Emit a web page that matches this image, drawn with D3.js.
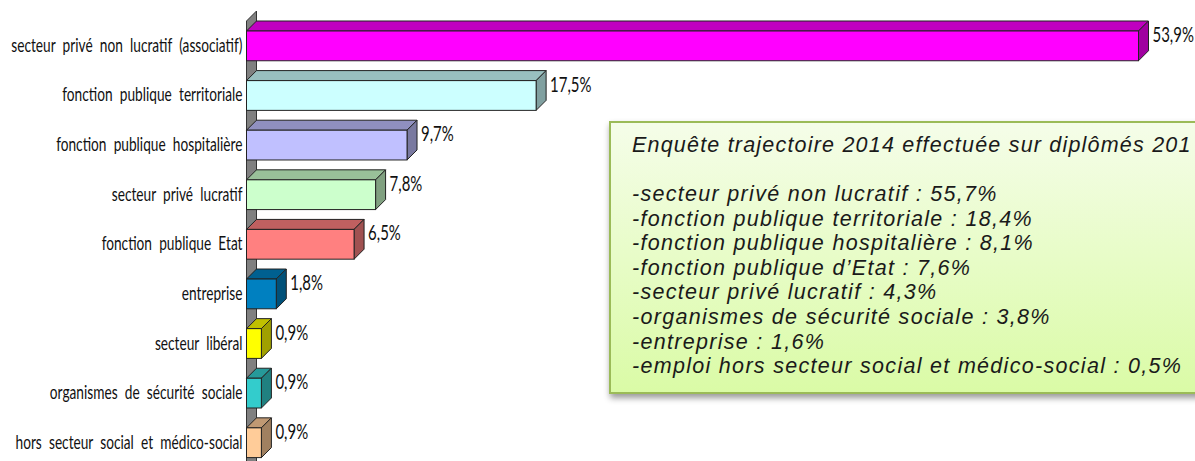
<!DOCTYPE html>
<html lang="fr">
<head>
  <meta charset="UTF-8">
  <title>Secteurs d'emploi</title>
  <style>
    body { margin: 0; background: #fff; overflow: hidden; }
    svg { display: block; }
    .cat text { font-family: Lato, sans-serif; font-size: 18.5px; fill: #111; word-spacing: 5px; }
    .valeur { font-family: Lato, sans-serif; font-size: 22px; fill: #111; }
    .encadre text { font-family: "Liberation Sans", sans-serif; font-style: italic; font-size: 21.5px; fill: #1a1a1a; letter-spacing: 1.3px; }
    .encadre .titre { letter-spacing: 1.2px; }
  </style>
</head>
<body>
  <svg id="grafico"></svg>

  <script src="https://d3js.org/d3.v7.min.js"></script>
  <script>
    const categories = [
      'secteur privé non lucratif (associatif)',
      'fonction publique territoriale',
      'fonction publique hospitalière',
      'secteur privé lucratif',
      'fonction publique Etat',
      'entreprise',
      'secteur libéral',
      'organismes de sécurité sociale',
      'hors secteur social et médico-social'
    ];
    const valeurs = [53.9, 17.5, 9.7, 7.8, 6.5, 1.8, 0.9, 0.9, 0.9];
    const couleurs = ['#ff00ff', '#ccffff', '#c0c0ff', '#ccffcc', '#ff8080', '#0080c0', '#ffff00', '#33cccc', '#ffcc99'];
    const titreEncadre = 'Enquête trajectoire 2014 effectuée sur diplômés 201';
    const lignesEncadre = [
      '-secteur privé non lucratif : 55,7%',
      '-fonction publique territoriale : 18,4%',
      '-fonction publique hospitalière : 8,1%',
      '-fonction publique d’Etat : 7,6%',
      '-secteur privé lucratif : 4,3%',
      '-organismes de sécurité sociale : 3,8%',
      '-entreprise : 1,6%',
      '-emploi hors secteur social et médico-social : 0,5%'
    ];

    function executa() {
      const largura = 1195;
      const altura = 461;
      const prof = 10; // profondeur de l'effet 3D
      const svg = d3.select('#grafico').attr('width', largura).attr('height', altura);
      const fmt = d => String(d.toFixed(1)).replace('.', ',') + '%';

      const x = d3.scaleLinear().domain([0, 53.9]).range([246.5, 1138.5]);
      const y = d3.scaleBand().domain(categories).range([31, 457.6]).paddingInner(0.4);
      const bh = y.bandwidth();

      // mur gris derriere les barres
      svg.append('path')
        .attr('d', `M${x(0)},${y.range()[0] - 10}l${prof},${-prof}V${altura + 5}h${-prof}Z`)
        .attr('fill', '#808080')
        .attr('stroke', '#333');

      const barres = svg.selectAll('.barre')
        .data(categories)
        .enter()
        .append('g')
        .classed('barre', true)
        .attr('stroke', '#222')
        .attr('stroke-width', 1);

      const x1 = (d, i) => x(valeurs[i]);

      barres.append('path') // dessus
        .attr('fill', (d, i) => d3.color(couleurs[i]).darker(0.8))
        .attr('d', (d, i) => `M${x(0)},${y(d)}l${prof},${-prof}H${x1(d, i) + prof}l${-prof},${prof}Z`);

      barres.append('path') // cote
        .attr('fill', (d, i) => d3.color(couleurs[i]).darker(1.3))
        .attr('d', (d, i) => `M${x1(d, i)},${y(d)}l${prof},${-prof}v${bh}l${-prof},${prof}Z`);

      barres.append('rect')
        .attr('x', x(0))
        .attr('y', d => y(d))
        .attr('width', (d, i) => x1(d, i) - x(0))
        .attr('height', bh)
        .attr('fill', (d, i) => couleurs[i]);

      svg.selectAll('.valeur')
        .data(valeurs)
        .enter()
        .append('text')
        .classed('valeur', true)
        .text(fmt)
        .attr('transform', (d, i) => `translate(${x(d) + 14},${y(categories[i]) + 11}) scale(.68,1)`);

      svg.append('g')
        .classed('cat', true)
        .attr('transform', `translate(${x(0)},0)`)
        .call(d3.axisLeft(y).tickSize(0).tickPadding(0))
        .call(g => g.select('.domain').remove())
        .selectAll('text')
        .attr('x', null)
        .attr('dy', null)
        .attr('transform', 'translate(-4,6) scale(.74,1)');

      // encadre vert
      const defs = svg.append('defs');
      const grad = defs.append('linearGradient').attr('id', 'fondVert').attr('x2', 0).attr('y2', 1);
      grad.append('stop').attr('offset', 0).attr('stop-color', '#f5fde9');
      grad.append('stop').attr('offset', 1).attr('stop-color', '#dafba6');
      const ombre = defs.append('filter').attr('id', 'ombre').attr('x', '-5%').attr('y', '-5%').attr('width', '110%').attr('height', '115%');
      ombre.append('feDropShadow').attr('dx', 1).attr('dy', 4).attr('stdDeviation', 3).attr('flood-color', '#000').attr('flood-opacity', 0.4);

      const enc = svg.append('g').classed('encadre', true);
      enc.append('rect')
        .attr('x', 610).attr('y', 122).attr('width', 620).attr('height', 271)
        .attr('fill', 'url(#fondVert)')
        .attr('stroke', '#9bbb59')
        .attr('stroke-width', 2)
        .attr('filter', 'url(#ombre)');
      enc.append('text').classed('titre', true).text(titreEncadre).attr('x', 632).attr('y', 152);
      enc.selectAll('.ligne')
        .data(lignesEncadre)
        .enter()
        .append('text')
        .classed('ligne', true)
        .text(d => d)
        .attr('x', 632)
        .attr('y', (d, i) => 201 + i * 24.6);
    }

    executa();
  </script>
</body>
</html>
